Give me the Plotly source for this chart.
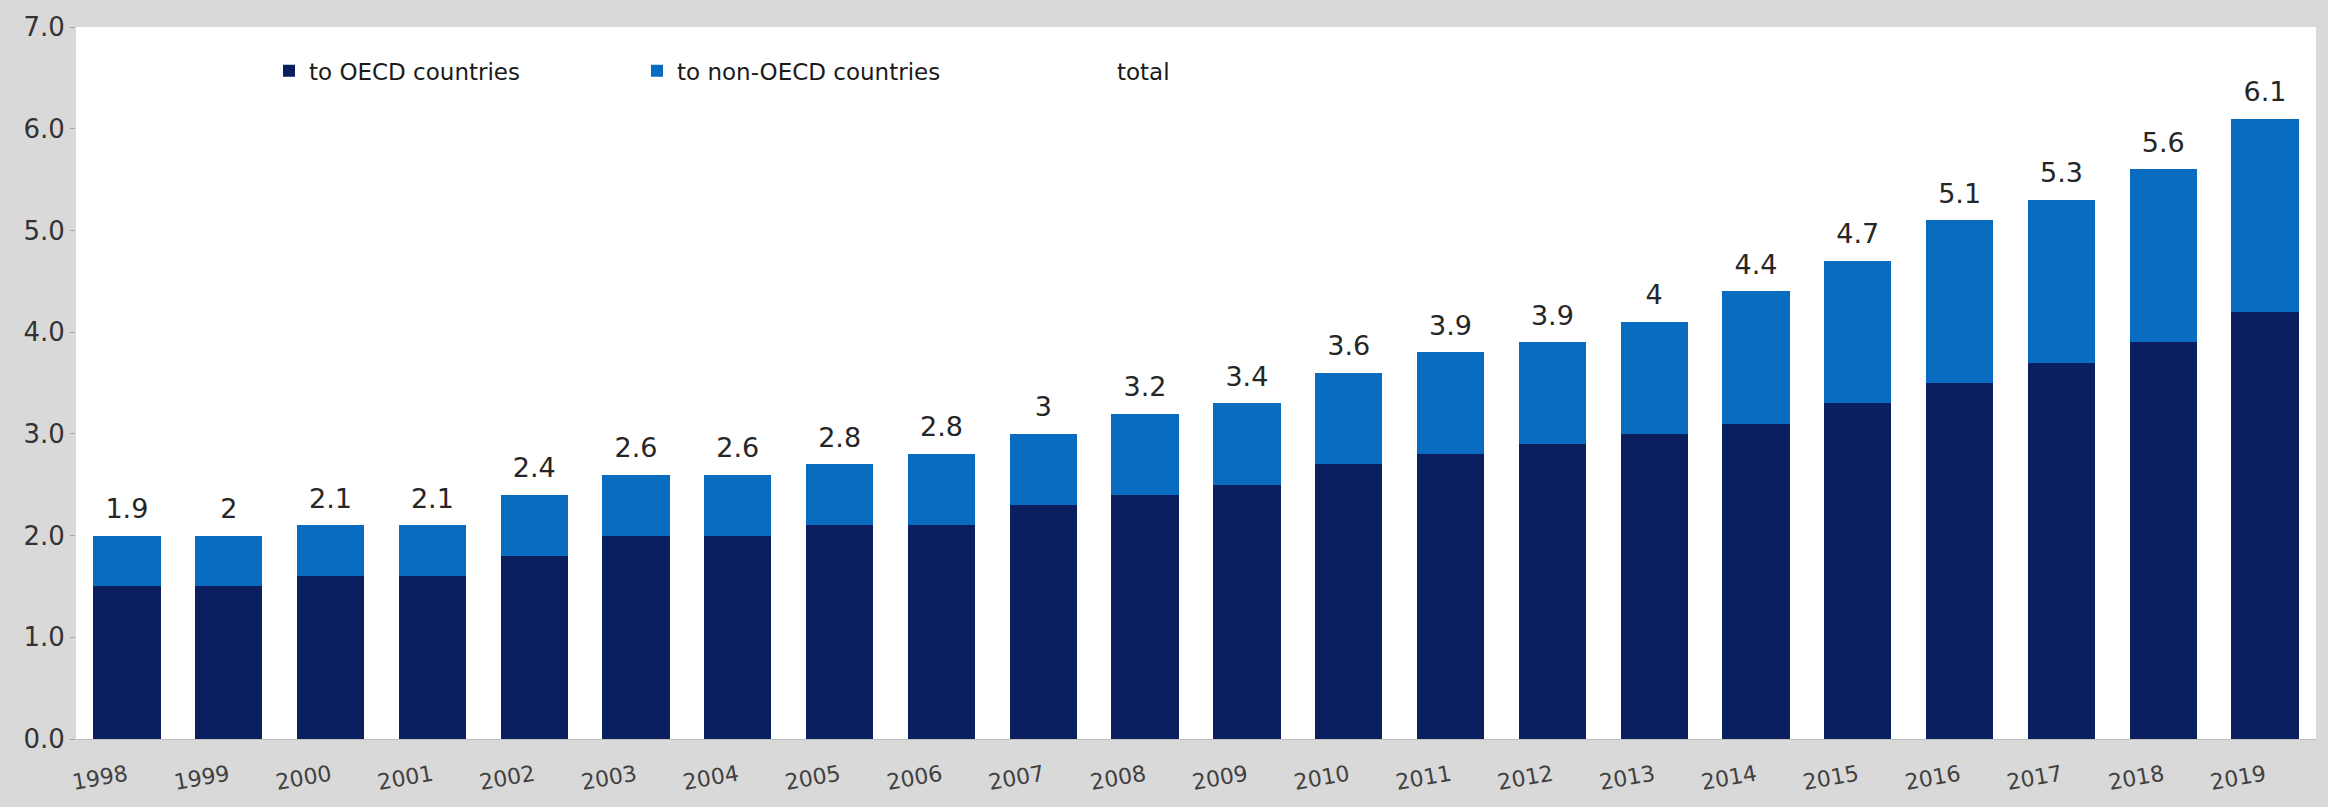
import plotly.graph_objects as go

years = [str(y) for y in range(1998, 2020)]
to_oecd = [1.5, 1.5, 1.6, 1.6, 1.8, 2.0, 2.0, 2.1, 2.1, 2.3, 2.4, 2.5, 2.7, 2.8, 2.9, 3.0, 3.1, 3.3, 3.5, 3.7, 3.9, 4.2]
to_non_oecd = [0.5, 0.5, 0.5, 0.5, 0.6, 0.6, 0.6, 0.6, 0.7, 0.7, 0.8, 0.8, 0.9, 1.0, 1.0, 1.1, 1.3, 1.4, 1.6, 1.6, 1.7, 1.9]
total_labels = ["1.9", "2", "2.1", "2.1", "2.4", "2.6", "2.6", "2.8", "2.8", "3", "3.2", "3.4", "3.6", "3.9", "3.9", "4", "4.4", "4.7", "5.1", "5.3", "5.6", "6.1"]
y_ticks = [0, 1, 2, 3, 4, 5, 6, 7]

totals = [a + b for a, b in zip(to_oecd, to_non_oecd)]

FONT = "DejaVu Sans"
W, H = 2328, 807
ML, MR, MT, MB = 76, 12, 24, 66

fig = go.Figure()
fig.add_trace(go.Bar(x=years, y=to_oecd, name="to OECD countries",
                     marker=dict(color="#0B1F5E", line=dict(width=0)), legend="legend"))
fig.add_trace(go.Bar(x=years, y=to_non_oecd, name="to non-OECD countries",
                     marker=dict(color="#0A6CC0", line=dict(width=0)), legend="legend2"))
fig.add_trace(go.Scatter(x=years, y=totals, name="total", mode="markers+text",
                         text=total_labels, textposition="top center",
                         textfont=dict(family=FONT, size=27, color="#262626"),
                         marker=dict(color="rgba(0,0,0,0)", size=16),
                         cliponaxis=False, legend="legend3"))

pw = W - ML - MR
ph = H - MT - MB

def lx(px):
    return (px - ML) / pw

def ly(py):
    return 1 - (py - MT) / ph

leg_common = dict(orientation="h", yanchor="middle", xanchor="left",
                  bgcolor="rgba(0,0,0,0)", font=dict(family=FONT, size=23, color="#1a1a1a"),
                  itemwidth=30)

fig.update_layout(
    width=W, height=H,
    margin=dict(l=ML, r=MR, t=MT, b=MB, pad=0),
    paper_bgcolor="#D9D9D9",
    plot_bgcolor="#FFFFFF",
    barmode="stack",
    bargap=0.34,
    showlegend=True,
    legend=dict(x=lx(269), y=ly(68), **leg_common),
    legend2=dict(x=lx(637), y=ly(68), **leg_common),
    legend3=dict(x=lx(1077), y=ly(68), **leg_common),
    font=dict(family=FONT, color="#333333"),
    xaxis=dict(type="category", range=[-0.5, 21.5], tickangle=-10, showgrid=False,
               showline=True, linecolor="#BFBFBF", linewidth=1,
               tickfont=dict(family=FONT, size=22, color="#404040"), ticks="",
               ticklabelstandoff=14),
    yaxis=dict(range=[0, 7], tickvals=y_ticks, tickformat=".1f", showgrid=False,
               zeroline=False, showline=False, ticks="outside", ticklen=5,
               tickcolor="#A6A6A6", tickfont=dict(family=FONT, size=26, color="#333333")),
)

fig.write_html("out.html")
